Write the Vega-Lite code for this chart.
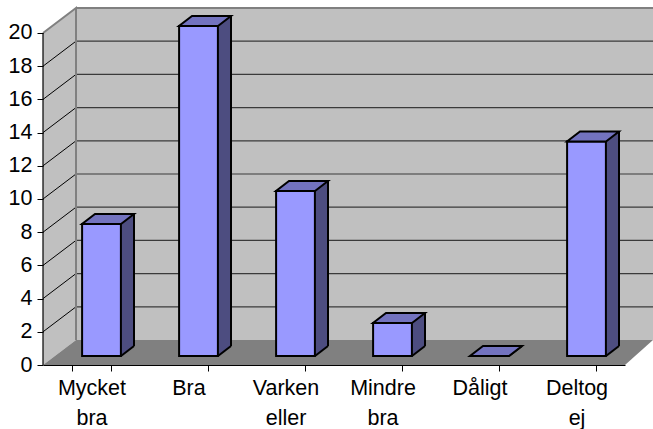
{
"$schema":"https://vega.github.io/schema/vega-lite/v6.json",
"width":582,"height":357,
"autosize":{"type":"none"},
"padding":{"left":43,"top":8,"right":28,"bottom":64},
"background":"white",
"view":{"stroke":null},
"config":{"font":"Liberation Sans"},
"resolve":{"scale":{"y":"independent"},"axis":{"y":"independent"}},
"datasets":{
"bars":[{"svar":"Mycket bra","antal":8},{"svar":"Bra","antal":20},{"svar":"Varken eller","antal":10},{"svar":"Mindre bra","antal":2},{"svar":"Dåligt","antal":0},{"svar":"Deltog ej","antal":13}],
"ticks":[{"v":0},{"v":2},{"v":4},{"v":6},{"v":8},{"v":10},{"v":12},{"v":14},{"v":16},{"v":18},{"v":20}]
},
"layer":[
{"data":{"values":[{"w":"walls"}]},"mark":{"type":"point","filled":true,"opacity":1,"size":4,"fill":"#C0C0C0","stroke":null,"shape":"M0 -332L33 -357L33 -25L0 0Z M33 -25L610 -25L610 -357L33 -357Z"},
 "encoding":{"x":{"value":0},"y":{"datum":0,"type":"quantitative","scale":{"domain":[0,21.506],"nice":false},"axis":null}}},
{"data":{"values":[{"w":"floor"}]},"mark":{"type":"point","filled":true,"opacity":1,"size":4,"fill":"#808080","stroke":null,"shape":"M0 0L33 -25L610 -25L582 0Z"},
 "encoding":{"x":{"value":0},"y":{"datum":0,"type":"quantitative","scale":{"domain":[0,21.506],"nice":false},"axis":null}}},
{"data":{"name":"ticks"},"transform":[{"filter":"datum.v>0"}],"mark":{"type":"rule","stroke":"#3a3a3a","strokeWidth":1.2,"yOffset":-25},
 "encoding":{"x":{"value":33},"x2":{"value":610},"y":{"field":"v","type":"quantitative","scale":{"domain":[0,21.506],"nice":false},"axis":null}}},
{"data":{"name":"ticks"},"transform":[{"filter":"datum.v>0 && datum.v<20"}],"mark":{"type":"point","filled":false,"opacity":1,"size":4,"stroke":"black","strokeWidth":1,"shape":"M0 0L33 -25"},
 "encoding":{"x":{"value":0},"y":{"field":"v","type":"quantitative","scale":{"domain":[0,21.506],"nice":false},"axis":null}}},
{"data":{"values":[{"w":"edges"}]},"mark":{"type":"point","filled":false,"opacity":1,"size":4,"stroke":"#808080","strokeWidth":2,"shape":"M0 -332L33 -357L33 -25M33 -357L610 -357"},
 "encoding":{"x":{"value":0},"y":{"datum":0,"type":"quantitative","scale":{"domain":[0,21.506],"nice":false},"axis":null}}},
{"data":{"name":"ticks"},"transform":[{"filter":"datum.v==20"}],"mark":{"type":"rule","stroke":"black","strokeWidth":1.2},
 "encoding":{"x":{"value":0},"y":{"field":"v","type":"quantitative","scale":{"domain":[0,21.506],"nice":false},"axis":null},"y2":{"datum":0}}},
{"data":{"name":"ticks"},"mark":{"type":"rule","opacity":0},
 "encoding":{"x":{"value":0},"y":{"field":"v","type":"quantitative","scale":{"domain":[0,21.506],"nice":false},"axis":{"values":[0,2,4,6,8,10,12,14,16,18,20],"title":null,"grid":false,"domain":false,"tickColor":"black","tickSize":6,"labelFontSize":21.5,"labelColor":"black","labelPadding":5,"zindex":1,"labelFont":"Liberation Sans"}}}},
{"data":{"name":"bars"},"mark":{"type":"point","filled":true,"opacity":1,"size":4,"fill":"#4D4D80","stroke":null,"xOffset":10,"yOffset":-9,"shape":"M19.5 0L32.5 -10L19.5 -10Z"},
 "encoding":{"x":{"field":"svar","type":"nominal","sort":null,"scale":{"paddingInner":0.6,"paddingOuter":0.3},
   "axis":{"title":null,"labelAngle":0,"labelAlign":"center","labelBaseline":"top","labelExpr":"split(datum.label,' ')","labelFontSize":21.5,"labelLineHeight":30,"labelColor":"black","labelPadding":6,"tickBand":"extent","tickColor":"black","tickSize":6,"domainColor":"black","domainWidth":1.2,"grid":false,"zindex":1,"labelFont":"Liberation Sans"}},
  "y":{"datum":0,"type":"quantitative","scale":{"domain":[0,21.64],"nice":false},"axis":null}}},
{"data":{"name":"bars"},"mark":{"type":"rect","width":13,"fill":"#4D4D80","xOffset":36,"x2Offset":36,"yOffset":-19,"y2Offset":-19},
 "encoding":{"x":{"field":"svar","type":"nominal","sort":null},"y":{"field":"antal","type":"quantitative","scale":{"domain":[0,21.64],"nice":false},"axis":null},"y2":{"datum":0}}},
{"data":{"name":"bars"},"mark":{"type":"rule","stroke":"black","strokeWidth":2,"xOffset":42.5,"yOffset":-19,"y2Offset":-19},
 "encoding":{"x":{"field":"svar","type":"nominal","sort":null},"y":{"field":"antal","type":"quantitative","scale":{"domain":[0,21.64],"nice":false},"axis":null},"y2":{"datum":0}}},
{"data":{"name":"bars"},"mark":{"type":"point","filled":false,"opacity":1,"size":4,"stroke":"black","strokeWidth":2,"xOffset":10,"yOffset":-9,"shape":"M19.5 0L32.5 -10"},
 "encoding":{"x":{"field":"svar","type":"nominal","sort":null},"y":{"datum":0,"type":"quantitative","scale":{"domain":[0,21.64],"nice":false},"axis":null}}},
{"data":{"name":"bars"},"mark":{"type":"bar","fill":"#9999FF","stroke":"black","strokeWidth":2,"xOffset":10,"x2Offset":10,"yOffset":-9,"y2Offset":-9},
 "encoding":{"x":{"field":"svar","type":"nominal","sort":null},"y":{"field":"antal","type":"quantitative","scale":{"domain":[0,21.64],"nice":false},"axis":null},"y2":{"datum":0}}},
{"data":{"name":"bars"},"mark":{"type":"point","filled":true,"opacity":1,"size":4,"fill":"#7373BF","stroke":"black","strokeWidth":2,"xOffset":10,"yOffset":-9,"shape":"M-19.5 0L19.5 0L32.5 -10L-6.5 -10Z"},
 "encoding":{"x":{"field":"svar","type":"nominal","sort":null},"y":{"field":"antal","type":"quantitative","scale":{"domain":[0,21.64],"nice":false},"axis":null}}}
]
}
